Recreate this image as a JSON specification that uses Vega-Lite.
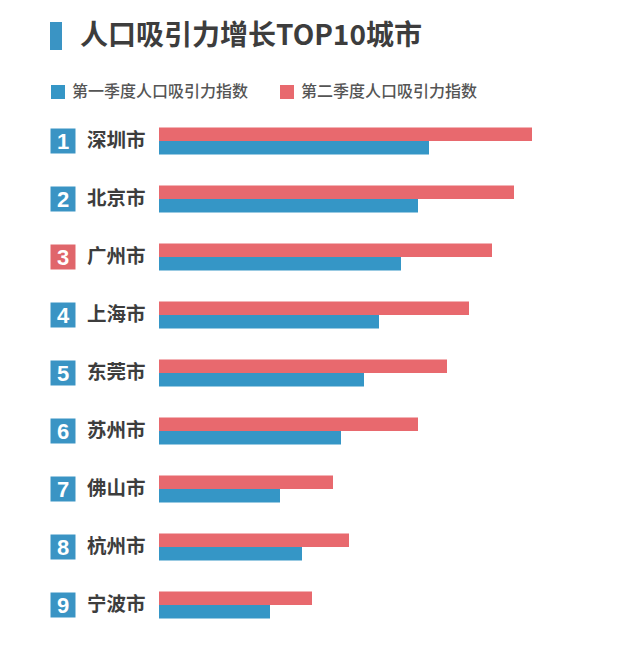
{
  "$schema": "https://vega.github.io/schema/vega-lite/v6.json",
  "background": "white",
  "padding": {"left": 50, "top": 22, "right": 0, "bottom": 0},
  "datasets": {
    "bars": [
      {"city": "深圳市", "series": "第一季度人口吸引力指数", "value": 270},
      {"city": "深圳市", "series": "第二季度人口吸引力指数", "value": 373},
      {"city": "北京市", "series": "第一季度人口吸引力指数", "value": 259},
      {"city": "北京市", "series": "第二季度人口吸引力指数", "value": 355},
      {"city": "广州市", "series": "第一季度人口吸引力指数", "value": 242},
      {"city": "广州市", "series": "第二季度人口吸引力指数", "value": 333},
      {"city": "上海市", "series": "第一季度人口吸引力指数", "value": 220},
      {"city": "上海市", "series": "第二季度人口吸引力指数", "value": 310},
      {"city": "东莞市", "series": "第一季度人口吸引力指数", "value": 205},
      {"city": "东莞市", "series": "第二季度人口吸引力指数", "value": 288},
      {"city": "苏州市", "series": "第一季度人口吸引力指数", "value": 182},
      {"city": "苏州市", "series": "第二季度人口吸引力指数", "value": 259},
      {"city": "佛山市", "series": "第一季度人口吸引力指数", "value": 121},
      {"city": "佛山市", "series": "第二季度人口吸引力指数", "value": 174},
      {"city": "杭州市", "series": "第一季度人口吸引力指数", "value": 143},
      {"city": "杭州市", "series": "第二季度人口吸引力指数", "value": 190},
      {"city": "宁波市", "series": "第一季度人口吸引力指数", "value": 111},
      {"city": "宁波市", "series": "第二季度人口吸引力指数", "value": 153},
      {"city": "合肥市", "series": "第一季度人口吸引力指数", "value": 95},
      {"city": "合肥市", "series": "第二季度人口吸引力指数", "value": 138}
    ],
    "ranks": [
      {"city": "深圳市", "rank": 1},
      {"city": "北京市", "rank": 2},
      {"city": "广州市", "rank": 3},
      {"city": "上海市", "rank": 4},
      {"city": "东莞市", "rank": 5},
      {"city": "苏州市", "rank": 6},
      {"city": "佛山市", "rank": 7},
      {"city": "杭州市", "rank": 8},
      {"city": "宁波市", "rank": 9},
      {"city": "合肥市", "rank": 10}
    ],
    "header": [{"title": "人口吸引力增长TOP10城市"}]
  },
  "vconcat": [
    {
      "data": {"name": "header"},
      "width": 12,
      "height": 28,
      "layer": [
        {
          "mark": {"type": "rect", "color": "#3a94c4"},
          "encoding": {}
        },
        {
          "mark": {"type": "text", "align": "left", "baseline": "middle", "dx": 24, "dy": 1, "fontSize": 28, "fontWeight": "bold", "color": "#3d3d3d"},
          "encoding": {"text": {"field": "title", "type": "nominal"}}
        }
      ]
    },
    {
      "spacing": 10,
      "hconcat": [
        {
          "data": {"name": "ranks"},
          "width": 26,
          "height": 580,
          "encoding": {
            "y": {
              "field": "city",
              "type": "nominal",
              "sort": ["深圳市", "北京市", "广州市", "上海市", "东莞市", "苏州市", "佛山市", "杭州市", "宁波市", "合肥市"],
              "scale": {"paddingInner": 0.534, "paddingOuter": 0.267},
              "axis": null
            }
          },
          "layer": [
            {
              "mark": {"type": "square", "size": 625, "opacity": 1, "filled": true},
              "encoding": {
                "color": {
                  "condition": {"test": "datum.rank === 3", "value": "#e0666b"},
                  "value": "#3a94c4"
                }
              }
            },
            {
              "mark": {"type": "text", "color": "white", "fontSize": 22, "fontWeight": "bold", "baseline": "middle", "dy": 1, "font": "Liberation Sans"},
              "encoding": {"text": {"field": "rank", "type": "quantitative"}}
            }
          ]
        },
        {
          "data": {"name": "bars"},
          "width": 400,
          "height": 580,
          "mark": {"type": "bar"},
          "encoding": {
            "y": {
              "field": "city",
              "type": "nominal",
              "sort": ["深圳市", "北京市", "广州市", "上海市", "东莞市", "苏州市", "佛山市", "杭州市", "宁波市", "合肥市"],
              "scale": {"paddingInner": 0.534, "paddingOuter": 0.267},
              "axis": {
                "title": null,
                "ticks": false,
                "domain": false,
                "labelFontSize": 19.5,
                "labelFontWeight": "bold",
                "labelColor": "#3d3d3d",
                "labelPadding": 14
              }
            },
            "yOffset": {
              "field": "series",
              "type": "nominal",
              "sort": ["第二季度人口吸引力指数", "第一季度人口吸引力指数"],
              "scale": {"paddingInner": 0, "paddingOuter": 0}
            },
            "x": {
              "field": "value",
              "type": "quantitative",
              "scale": {"domain": [0, 400]},
              "axis": null
            },
            "color": {
              "field": "series",
              "type": "nominal",
              "scale": {
                "domain": ["第一季度人口吸引力指数", "第二季度人口吸引力指数"],
                "range": ["#3596c6", "#e8696e"]
              },
              "legend": {
                "title": null,
                "orient": "none",
                "direction": "horizontal",
                "legendX": 0,
                "legendY": 62,
                "symbolType": "square",
                "symbolSize": 196,
                "symbolStrokeWidth": 0,
                "labelFontSize": 16,
                "labelLimit": 400,
                "labelColor": "#555555",
                "labelFontWeight": 500,
                "labelOffset": 6,
                "columnPadding": 30
              }
            }
          }
        }
      ]
    }
  ],
  "spacing": 61,
  "config": {
    "font": "Noto Sans CJK SC",
    "view": {"stroke": null}
  }
}
